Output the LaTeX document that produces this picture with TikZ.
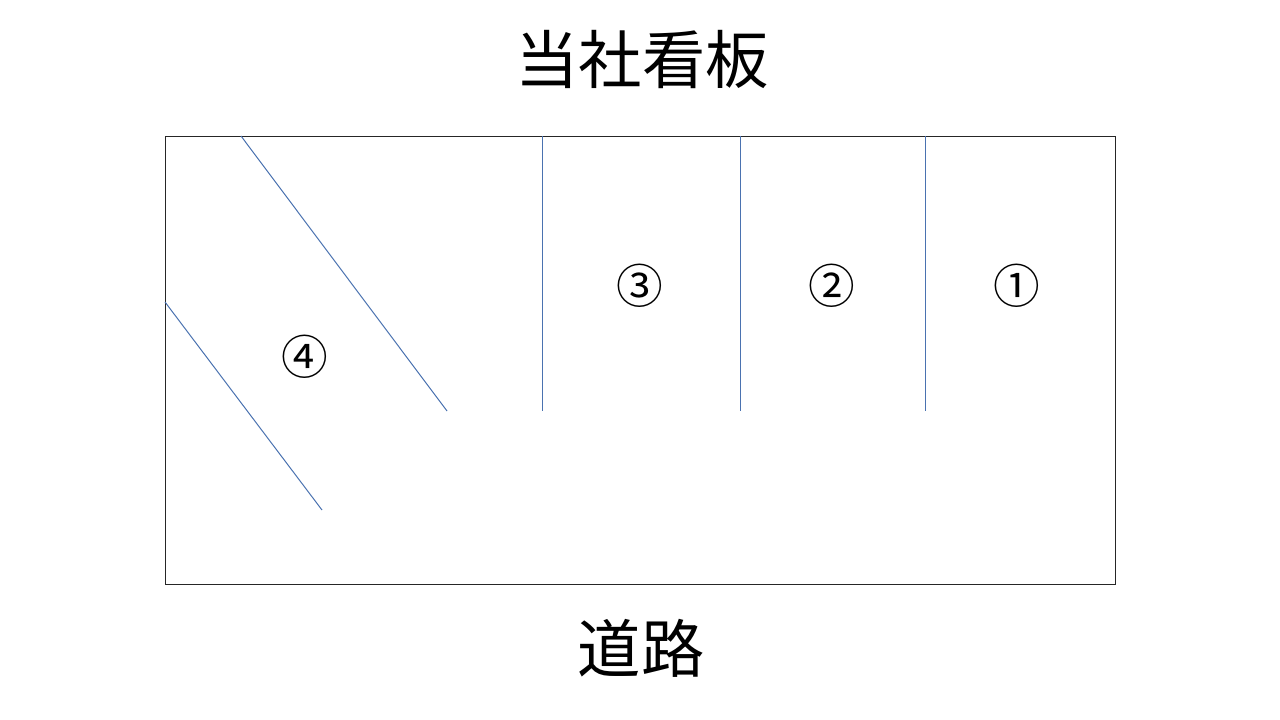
\documentclass[tikz,border=0pt]{standalone}
\usepackage{fontspec}
\newfontfamily\cjk{Noto Sans CJK JP}
\definecolor{lineblue}{HTML}{4A72B0}
\begin{document}
\begin{tikzpicture}[x=0.75pt,y=-0.75pt,
  divider/.style={draw=lineblue,line width=0.75pt},
  num/.style={font=\cjk\fontsize{35}{42}\selectfont,inner sep=0pt},
  title/.style={font=\cjk\fontsize{47.5}{56}\selectfont,inner sep=0pt}]
\useasboundingbox (0,0) rectangle (1280,720);
\node[draw=black!85,line width=0.75pt,minimum width=950*0.75pt,minimum height=448*0.75pt,inner sep=0pt,anchor=north west] (lot) at (165,136) {};
\coordinate (d1a) at (241,136); \coordinate (d1b) at (447,411);
\coordinate (d2a) at (165,302); \coordinate (d2b) at (322,510);
\coordinate (v1a) at (542,136); \coordinate (v1b) at (542,411);
\coordinate (v2a) at (740,136); \coordinate (v2b) at (740,411);
\coordinate (v3a) at (925,136); \coordinate (v3b) at (925,411);
\draw[divider] (d1a) -- (d1b);
\draw[divider] (d2a) -- (d2b);
\draw[divider] (v1a) -- (v1b);
\draw[divider] (v2a) -- (v2b);
\draw[divider] (v3a) -- (v3b);
\node[num] (n3) at (640,286) {③};
\node[num] (n2) at (832,286) {②};
\node[num] (n1) at (1017,286) {①};
\node[num] (n4) at (305,357) {④};
\node[title] (t) at (642,59) {当社看板};
\node[title] (r) at (641,648) {道路};
\end{tikzpicture}
\end{document}
